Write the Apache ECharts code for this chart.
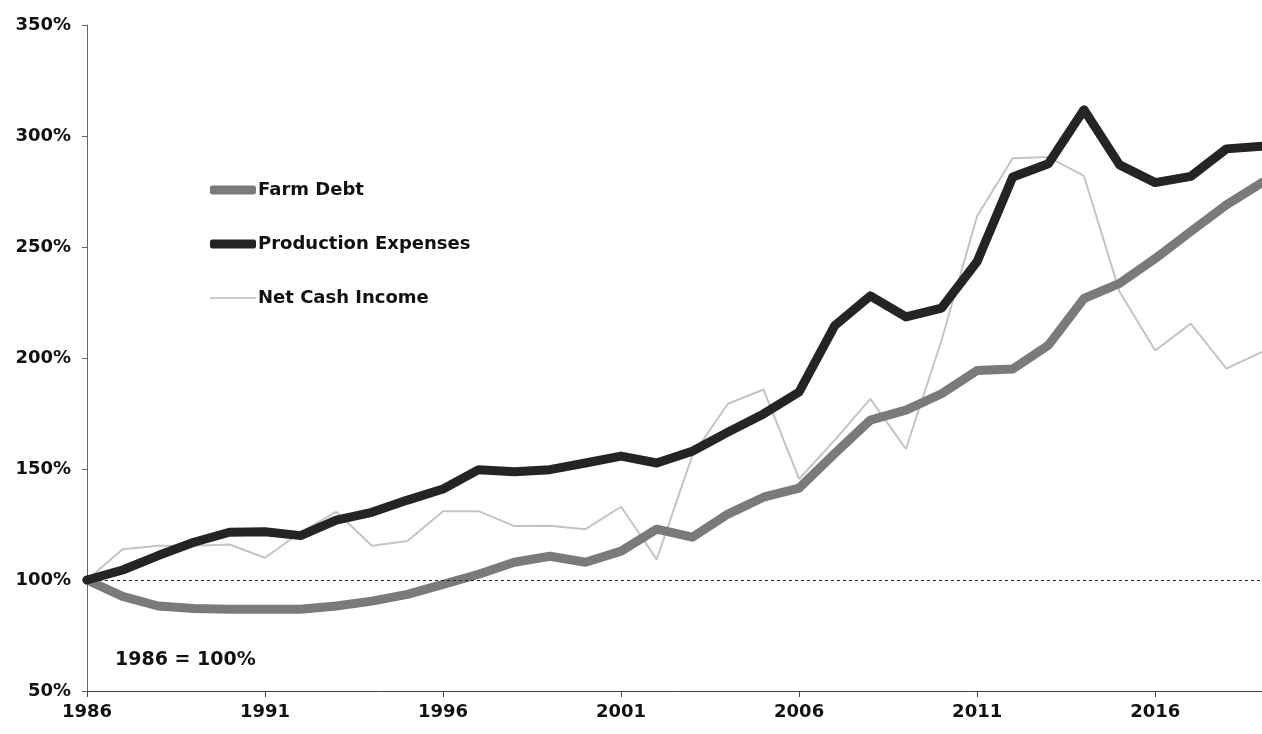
<!DOCTYPE html>
<html lang="en">
<head>
    <meta charset="UTF-8">
    <title>Farm Debt, Production Expenses, Net Cash Income</title>
    <script src="https://cdn.jsdelivr.net/npm/echarts@6/dist/echarts.min.js"></script>
    <style>
        html, body { margin: 0; padding: 0; background: #fff; }
        #chart { width: 1262px; height: 734px; }
    </style>
</head>
<body>
<div id="chart"></div>
<script>
    // years 1986 - 2019, index 1986 = 100%
    var years = [];
    for (var y = 1986; y <= 2019; y++) { years.push(String(y)); }

    var farmDebt = [100, 92.6, 88.3, 87.2, 86.8, 86.8, 86.8, 88.3, 90.5, 93.5,
        98, 102.6, 108, 110.7, 108, 113, 122.9, 119.3, 129.7, 137.3,
        141.4, 157, 172, 176.5, 183.9, 194.4, 195, 205.7, 226.8, 233.6,
        244.8, 257, 269, 279];
    var prodExpenses = [100, 104.5, 111, 117, 121.5, 121.7, 120, 127, 130.5, 136,
        141, 149.7, 148.8, 149.7, 152.7, 155.8, 152.7, 158, 166.6, 174.8,
        184.7, 214.6, 228, 218.5, 222.5, 243.5, 281.5, 287.5, 311.8, 287,
        279, 281.8, 294.2, 295.4];
    var netCash = [100, 113.9, 115.4, 115.4, 116, 110, 121.5, 130.7, 115.4, 117.6,
        131, 131, 124.3, 124.4, 122.9, 133, 109.3, 156, 179.4, 185.8,
        145.5, 163, 181.6, 159, 208, 264, 290, 290.5, 282, 229.8,
        203.4, 215.5, 195.2, 202.8];

    var yMin = 50, yMax = 350, yStep = 50;
    var baseLine = 100;

    var font = 'DejaVu Sans';
    var chart = echarts.init(document.getElementById('chart'));

    var option = {
        animation: false,
        backgroundColor: '#fff',
        textStyle: { fontFamily: font },
        grid: { left: 87, right: 0, top: 25, bottom: 43, containLabel: false },
        legend: {
            orient: 'vertical',
            left: 205,
            top: 176,
            itemWidth: 46,
            itemHeight: 9,
            itemGap: 36,
            textStyle: { fontFamily: font, fontWeight: 'bold', fontSize: 18, color: '#111', padding: [0, 0, 0, -3] },
            data: [
                { name: 'Farm Debt', icon: 'roundRect', itemStyle: { color: '#7a7a7a' } },
                { name: 'Production Expenses', icon: 'roundRect', itemStyle: { color: '#242424' } },
                { name: 'Net Cash Income', icon: 'path://M0,0L46,0L46,1.6L0,1.6Z', itemStyle: { color: '#b8b8b8' } }
            ]
        },
        xAxis: {
            type: 'category',
            boundaryGap: false,
            data: years,
            axisLine: { lineStyle: { color: '#444', width: 1 } },
            axisTick: { interval: 4, length: 6, lineStyle: { color: '#444' } },
            axisLabel: { interval: 4, margin: 12, color: '#111', fontFamily: font, fontWeight: 'bold', fontSize: 18 },
            splitLine: { show: false }
        },
        yAxis: {
            type: 'value',
            min: yMin,
            max: yMax,
            interval: yStep,
            axisLine: { show: true, lineStyle: { color: '#666', width: 1 } },
            axisTick: { show: true, length: 5, lineStyle: { color: '#666' } },
            axisLabel: { formatter: '{value}%', margin: 16, color: '#111', fontFamily: font, fontWeight: 'bold', fontSize: 18 },
            splitLine: { show: false }
        },
        graphic: [{
            type: 'text',
            left: 115,
            top: 651,
            style: { text: '1986 = 100%', fill: '#111', font: 'bold 19px "DejaVu Sans"' }
        }],
        series: [{
            name: 'Net Cash Income',
            type: 'line',
            data: netCash,
            showSymbol: false,
            symbol: 'none',
            z: 2,
            lineStyle: { color: '#c4c4c4', width: 2 },
            itemStyle: { color: '#c4c4c4' },
            markLine: {
                silent: true,
                symbol: 'none',
                label: { show: false },
                lineStyle: { color: '#222', type: [3, 3], width: 1 },
                data: [{ yAxis: baseLine }]
            }
        }, {
            name: 'Farm Debt',
            type: 'line',
            data: farmDebt,
            showSymbol: false,
            symbol: 'none',
            z: 3,
            lineStyle: { color: '#7a7a7a', width: 9, cap: 'round', join: 'round' },
            itemStyle: { color: '#7a7a7a' }
        }, {
            name: 'Production Expenses',
            type: 'line',
            data: prodExpenses,
            showSymbol: false,
            symbol: 'none',
            z: 4,
            lineStyle: { color: '#242424', width: 9, cap: 'round', join: 'round' },
            itemStyle: { color: '#242424' }
        }]
    };

    chart.setOption(option);
</script>
</body>
</html>
